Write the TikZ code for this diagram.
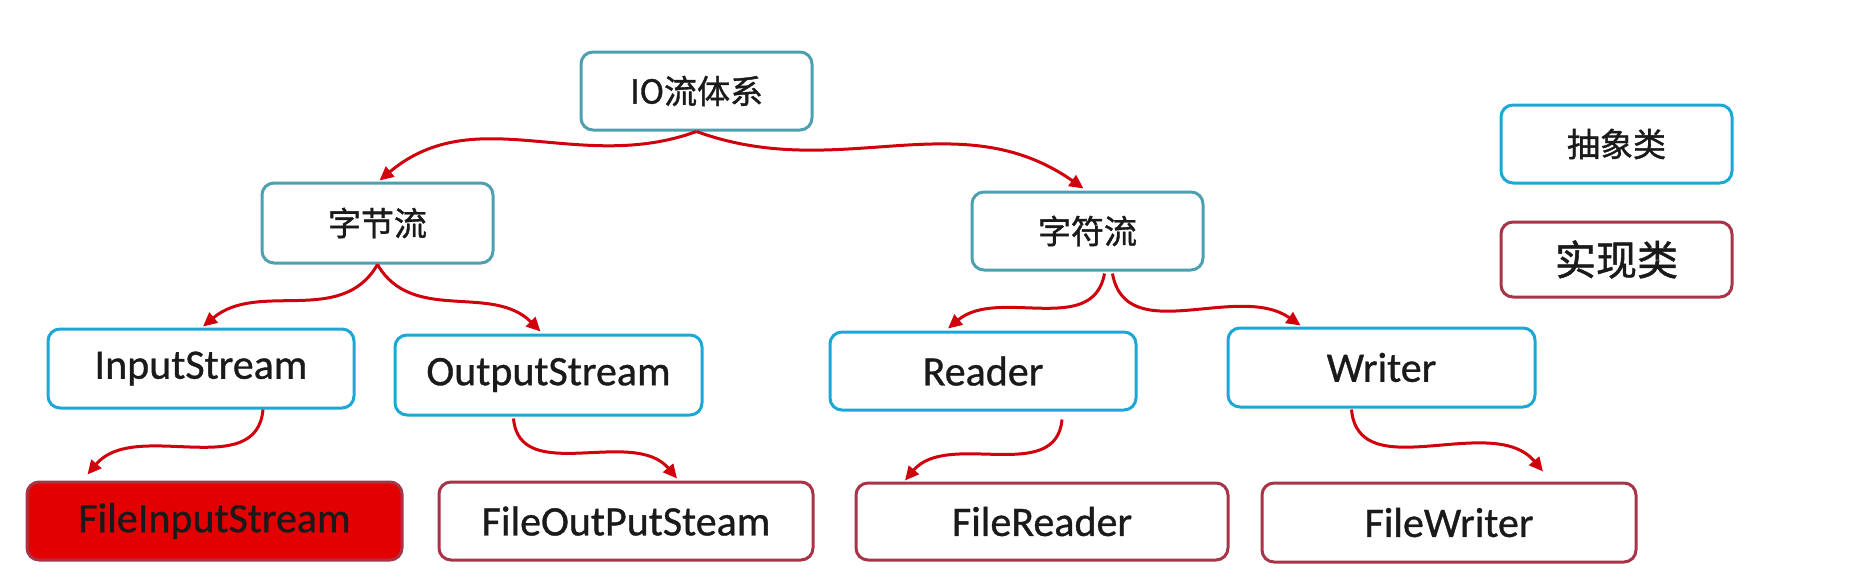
\documentclass[tikz,border=0pt]{standalone}
\usepackage{fontspec}
\setmainfont{Carlito}[FakeBold=0.8]
\newfontfamily\cjk{Noto Sans CJK SC}[FakeBold=1.2]
\usetikzlibrary{arrows.meta,calc}
\definecolor{tealb}{RGB}{78,160,176}
\definecolor{cyanb}{RGB}{28,168,214}
\definecolor{implb}{RGB}{168,52,72}
\definecolor{arrowr}{RGB}{208,0,12}
\definecolor{fillr}{RGB}{226,0,0}
\definecolor{txt}{RGB}{26,26,26}
\tikzset{
  box/.style={draw, line width=3pt, rounded corners=12pt, inner sep=0pt, text=txt, fill=white},
  topbox/.style={box, draw=tealb, font=\cjk\fontsize{33}{40}\selectfont},
  absbox/.style={box, draw=cyanb, font=\fontsize{42}{50}\selectfont},
  implbox/.style={box, draw=implb, font=\fontsize{42}{50}\selectfont},
  link/.style={draw=arrowr, line width=3pt, -{Triangle[length=14pt,width=13pt]}},
}
\begin{document}
\begin{tikzpicture}[x=1pt,y=-1pt]
\useasboundingbox[fill=white] (0,0) rectangle (1856,584);
% top levels
\node[topbox, minimum width=231pt, minimum height=78pt] (io) at (696.5,91) {IO流体系};
\node[topbox, minimum width=231pt, minimum height=80pt] (zj) at (377.5,223) {字节流};
\node[topbox, minimum width=231pt, minimum height=78pt] (zf) at (1087.5,231) {字符流};
% abstract classes
\node[absbox, minimum width=306pt, minimum height=79pt] (in) at (201,368.5) {InputStream};
\node[absbox, minimum width=307pt, minimum height=80pt] (out) at (548.5,375) {OutputStream};
\node[absbox, minimum width=306pt, minimum height=78pt] (rd) at (983,371) {Reader};
\node[absbox, minimum width=307pt, minimum height=79pt] (wr) at (1381.5,367.5) {Writer};
% implementations
\node[implbox, fill=fillr, minimum width=375pt, minimum height=78pt] (fis) at (214.5,521) {FileInputStream};
\node[implbox, minimum width=374pt, minimum height=78pt] (fos) at (626,521) {FileOutPutSteam};
\node[implbox, minimum width=372pt, minimum height=77pt] (fr) at (1042,521.5) {FileReader};
\node[implbox, minimum width=374pt, minimum height=79pt] (fw) at (1449,522.5) {FileWriter};
% legend
\node[box, draw=cyanb, font=\cjk\fontsize{33}{40}\selectfont, minimum width=231pt, minimum height=78pt] (abs) at (1616.5,144) {抽象类};
\node[box, draw=implb, font=\cjk\fontsize{41}{48}\selectfont, minimum width=231pt, minimum height=75pt] (impl) at (1616.5,259.5) {实现类};
% connectors
\draw[link] (io.south) to[out=-160,in=40] ($(zj.north)+(2,-1)$);
\draw[link] (io.south) to[out=-20,in=145] ($(zf.north)+(-4,-2)$);
\draw[link] (zj.south) to[out=-120,in=40] ($(in.north)+(2,-1)$);
\draw[link] (zj.south) to[out=-60,in=135] ($(out.north)+(-8,-2)$);
\draw[link] ($(in.south)+(62,0)$) to[out=-95,in=50] ($(fis.north)+(-127,-6)$);
\draw[link] ($(out.south)+(-35,2)$) to[out=-85,in=130] ($(fos.north)+(51,-2)$);
\draw[link] ($(zf.south)+(17,2)$) to[out=-100,in=40] ($(rd.north)+(-35,-2)$);
\draw[link] ($(zf.south)+(25,2)$) to[out=-80,in=145] ($(wr.north)+(-81,-1)$);
\draw[link] ($(rd.south)+(79,8)$) to[out=-95,in=50] ($(fr.north)+(-137,-1)$);
\draw[link] ($(wr.south)+(-30,1)$) to[out=-85,in=130] ($(fw.north)+(94,-10)$);
\end{tikzpicture}
\end{document}
